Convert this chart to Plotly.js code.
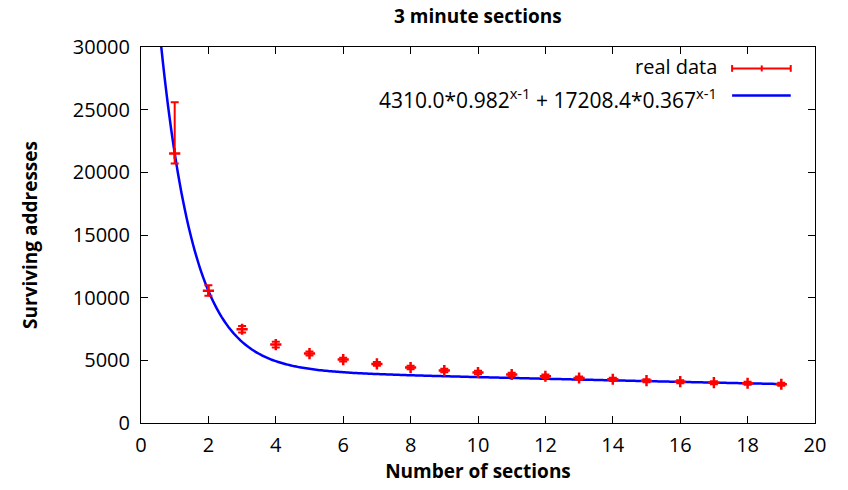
<!DOCTYPE html>
<html>
<head>
<meta charset="utf-8">
<script src="https://cdn.plot.ly/plotly-3.0.1.min.js"></script>
<style>html,body{margin:0;padding:0;background:#fff;}#chart{width:848px;height:490px;}</style>
</head>
<body>
<div id="chart"></div>
<script>
// ---- data ----
const sections = [1,2,3,4,5,6,7,8,9,10,11,12,13,14,15,16,17,18,19];
const surviving = [21500,10550,7480,6260,5540,5060,4710,4420,4180,4020,3870,3730,3590,3490,3380,3300,3220,3170,3090];
const errHigh = [4100,440,250,230,160,150,150,140,140,140,130,130,130,130,120,120,120,120,120];
const errLow  = [800,400,250,230,160,150,150,140,140,140,130,130,130,130,120,120,120,120,120];
// fit coefficients from the legend: a*b^(x-1) + c*d^(x-1)
const fitA = 4310.0, fitB = 0.982, fitC = 17208.4, fitD = 0.367;
const fitX = [];
for (let x = 0.5; x <= 19.0001; x += 0.05) fitX.push(+x.toFixed(2));
const fitY = fitX.map(x => fitA*Math.pow(fitB, x-1) + fitC*Math.pow(fitD, x-1));
const xTicks = [0,2,4,6,8,10,12,14,16,18,20];
const yTicks = [0,5000,10000,15000,20000,25000,30000];

const font = "'Open Sans', 'Noto Sans', sans-serif";

const traces = [
  {
    x: fitX, y: fitY, type: 'scatter', mode: 'lines',
    line: {color: '#0000ff', width: 2.5, simplify: false}, showlegend: false, hoverinfo: 'skip'
  },
  {
    x: sections, y: surviving, type: 'scatter', mode: 'markers',
    marker: {symbol: 'cross-thin', size: 8, color: '#ff0000', line: {color: '#ff0000', width: 2.5}},
    error_y: {type: 'data', symmetric: false, array: errHigh, arrayminus: errLow,
              color: '#ff0000', thickness: 2, width: 4},
    showlegend: false
  }
];

const axisCommon = {
  showgrid: false, zeroline: false, showline: true, linecolor: '#000', linewidth: 1,
  mirror: 'ticks', ticks: 'inside', ticklen: 7, tickcolor: '#000', tickwidth: 1,
  tickfont: {family: font, size: 20, color: '#000'}
};

const layout = {
  width: 848, height: 490,
  margin: {l: 141, r: 33, t: 47, b: 67},
  paper_bgcolor: '#fff', plot_bgcolor: '#fff',
  showlegend: false,
  title: {text: '<b>3 minute sections</b>', x: 0.5635, xanchor: 'center', y: 0.966, yanchor: 'middle',
          font: {family: font, size: 19, color: '#000'}},
  xaxis: Object.assign({}, axisCommon, {
    range: [0, 20], tickmode: 'array', tickvals: xTicks, ticktext: xTicks.map(String),
    ticklabelstandoff: 4,
    title: {text: '<b>Number of sections</b>', font: {family: font, size: 19, color: '#000'}, standoff: 4}
  }),
  yaxis: Object.assign({}, axisCommon, {
    range: [0, 30000], tickmode: 'array', tickvals: yTicks, ticktext: yTicks.map(String),
    ticklabelstandoff: 6,
    title: {text: '<b>Surviving addresses</b>', font: {family: font, size: 19, color: '#000'}, standoff: 30}
  }),
  annotations: [
    {xref: 'paper', yref: 'paper', x: 0.857, y: 0.947, xanchor: 'right', yanchor: 'middle',
     text: 'real data', showarrow: false, font: {family: font, size: 20, color: '#000'}},
    {xref: 'paper', yref: 'paper', x: 0.857, y: 0.862, xanchor: 'right', yanchor: 'middle',
     text: '4310.0*0.982<sup>x-1</sup> + 17208.4*0.367<sup>x-1</sup>', showarrow: false,
     font: {family: font, size: 21, color: '#000'}}
  ],
  shapes: [
    {type: 'line', xref: 'paper', yref: 'paper', x0: 0.877, x1: 0.964, y0: 0.943, y1: 0.943, line: {color: '#ff0000', width: 2}},
    {type: 'line', xref: 'paper', yref: 'paper', x0: 0.877, x1: 0.877, y0: 0.934, y1: 0.952, line: {color: '#ff0000', width: 2}},
    {type: 'line', xref: 'paper', yref: 'paper', x0: 0.964, x1: 0.964, y0: 0.934, y1: 0.952, line: {color: '#ff0000', width: 2}},
    {type: 'line', xref: 'paper', yref: 'paper', x0: 0.921, x1: 0.921, y0: 0.935, y1: 0.951, line: {color: '#ff0000', width: 2}},
    {type: 'line', xref: 'paper', yref: 'paper', x0: 0.877, x1: 0.964, y0: 0.871, y1: 0.871, line: {color: '#0000ff', width: 2.5}}
  ]
};

Plotly.newPlot('chart', traces, layout, {displayModeBar: false, staticPlot: true});
</script>
</body>
</html>
